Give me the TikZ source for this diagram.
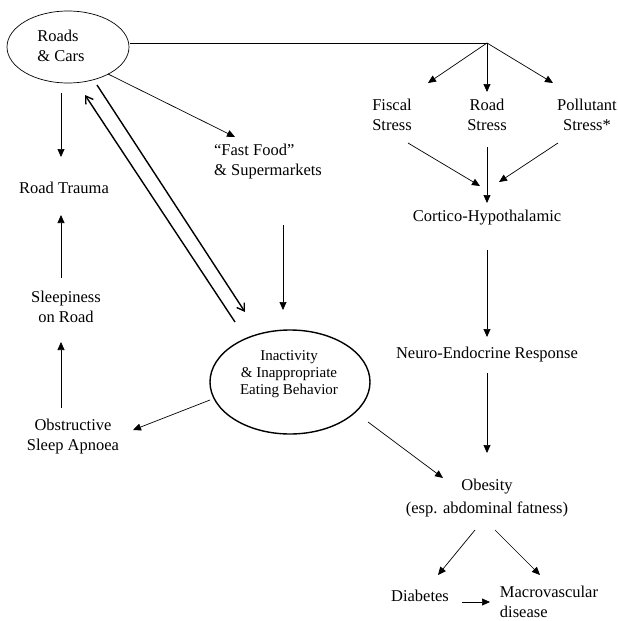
\documentclass[tikz,border=0pt]{standalone}
\usepackage{fontspec}
\setmainfont{Liberation Serif}
\usetikzlibrary{arrows.meta,shapes.geometric}
\begin{document}
\begin{tikzpicture}[x=1pt,y=-1pt,
  txt/.style={inner sep=0pt,align=center,font=\fontsize{16.5}{20}\selectfont},
  arr/.style={line width=0.7pt,-{Triangle[length=8pt,width=7pt]}},
  plain/.style={line width=0.7pt},
  thickarr/.style={line width=1.4pt,-{Straight Barb[length=7pt,width=9pt]}},
  oval/.style={ellipse,draw,inner sep=0pt}]
\useasboundingbox (0,0) rectangle (618,621);
% nodes
\node[oval,line width=0.7pt,minimum width=122pt,minimum height=72pt] (roads) at (68,47) {};
\node[txt,align=left] (roadslbl) at (61,46) {Roads\\\& Cars};
\node[txt] (trauma) at (64,188) {Road Trauma};
\node[txt] (sleepy) at (66,307) {Sleepiness\\on Road};
\node[txt] (osa) at (73,437) {Obstructive\\Sleep Apnoea};
\node[txt,align=left] (ff) at (268,162) {``Fast Food''\\\& Supermarkets};
\node[oval,line width=1.4pt,minimum width=160pt,minimum height=104pt] (inact) at (290,382) {};
\node[txt,font=\fontsize{15}{17}\selectfont] (inactlbl) at (289,374) {Inactivity\\\& Inappropriate\\Eating Behavior};
\coordinate (apex) at (487,43);
\node[txt] (fiscal) at (392,115) {Fiscal\\Stress};
\node[txt] (roadst) at (487,115) {Road\\Stress};
\node[txt] (poll) at (587,115) {Pollutant\\Stress*};
\node[txt] (cortico) at (487,218) {Cortico-Hypothalamic};
\node[txt] (neuro) at (487,355) {Neuro-Endocrine Response};
\node[txt,font=\fontsize{16.5}{23}\selectfont] (obesity) at (487,498) {Obesity\\(esp. abdominal fatness)};
\node[txt] (diab) at (420,596) {Diabetes};
\node[txt,align=left] (macro) at (549,602) {Macrovascular\\disease};
% connectors
\draw[arr] ([shift={(-7,46)}]roads.center) -- ([shift={(-3,-31)}]trauma.center);
\draw[arr] ([shift={(40,27)}]roads.center) -- ([shift={(-33,-25)}]ff.center);
\draw[plain] ([shift={(62,-4)}]roads.center) -- (apex);
\draw[arr] (apex) -- ([shift={(36,-32)}]fiscal.center);
\draw[arr] (apex) -- ([shift={(0,-23)}]roadst.center);
\draw[arr] (apex) -- ([shift={(-34,-32)}]poll.center);
\draw[arr] ([shift={(16,28)}]fiscal.center) -- ([shift={(-7,-32)}]cortico.center);
\draw[arr] ([shift={(0,32)}]roadst.center) -- ([shift={(0,-15)}]cortico.center);
\draw[arr] ([shift={(-29,28)}]poll.center) -- ([shift={(12,-36)}]cortico.center);
\draw[arr] ([shift={(0,32)}]cortico.center) -- ([shift={(0,-18)}]neuro.center);
\draw[arr] ([shift={(0,18)}]neuro.center) -- ([shift={(0,-45)}]obesity.center);
\draw[arr] ([shift={(-12,32)}]obesity.center) -- ([shift={(18,-21)}]diab.center);
\draw[arr] ([shift={(8,32)}]obesity.center) -- ([shift={(-9,-27)}]macro.center);
\draw[arr] ([shift={(42,6)}]diab.center) -- ([shift={(-59,0)}]macro.center);
\draw[arr] ([shift={(78,40)}]inact.center) -- ([shift={(-44,-20)}]obesity.center);
\draw[arr] ([shift={(-80,18)}]inact.center) -- ([shift={(60,-7)}]osa.center);
\draw[arr] ([shift={(-12,-29)}]osa.center) -- ([shift={(-5,35)}]sleepy.center);
\draw[arr] ([shift={(-5,-29)}]sleepy.center) -- ([shift={(-3,27)}]trauma.center);
\draw[arr] ([shift={(15,63)}]ff.center) -- ([shift={(-7,-72)}]inact.center);
\draw[thickarr] ([shift={(-55,-60)}]inact.center) -- ([shift={(17,48)}]roads.center);
\draw[thickarr] ([shift={(29,38)}]roads.center) -- ([shift={(-45,-70)}]inact.center);
\end{tikzpicture}
\end{document}
